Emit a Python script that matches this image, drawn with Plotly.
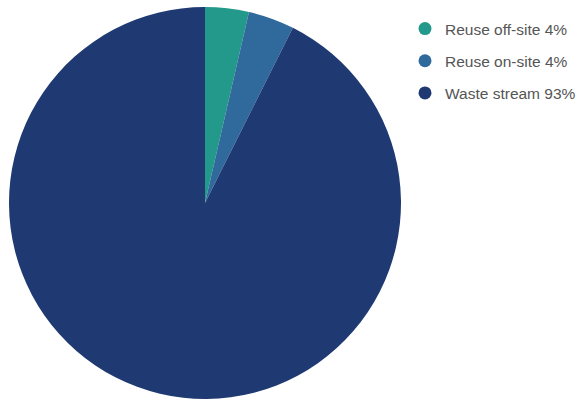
import plotly.graph_objects as go

# Share of material by destination (percent)
categories = ["Reuse off-site", "Reuse on-site", "Waste stream"]
shares = [3.6, 3.8, 92.6]
colors = ["#22998a", "#30699b", "#1f3a72"]

legend_names = [f"{c} {round(v)}%" for c, v in zip(categories, shares)]

fig = go.Figure()

fig.add_trace(go.Pie(
    labels=categories,
    values=shares,
    sort=False,
    direction="clockwise",
    rotation=0,
    textinfo="none",
    hoverinfo="label+percent",
    marker=dict(colors=colors, line=dict(width=0)),
    showlegend=False,
    domain=dict(x=[9 / 581, 401 / 581], y=[1 / 400, 393 / 400]),
))

# Legend entries with round markers, each in its own group for spacing
for i, (name, col) in enumerate(zip(legend_names, colors)):
    fig.add_trace(go.Scatter(
        x=[None], y=[None], mode="markers", name=name,
        legendgroup=f"g{i}",
        marker=dict(color=col, size=13, symbol="circle"),
        hoverinfo="skip",
    ))

fig.update_layout(
    width=581, height=400,
    margin=dict(l=0, r=0, t=0, b=0, autoexpand=False),
    paper_bgcolor="white", plot_bgcolor="white",
    xaxis=dict(visible=False), yaxis=dict(visible=False),
    legend=dict(
        x=405 / 581, y=1 - 12 / 400, xanchor="left", yanchor="top",
        font=dict(family="Liberation Sans, Arial, sans-serif", size=15.5, color="#555555"),
        tracegroupgap=9, itemwidth=30,
        bgcolor="rgba(0,0,0,0)",
    ),
)

fig.write_html("out.html")
